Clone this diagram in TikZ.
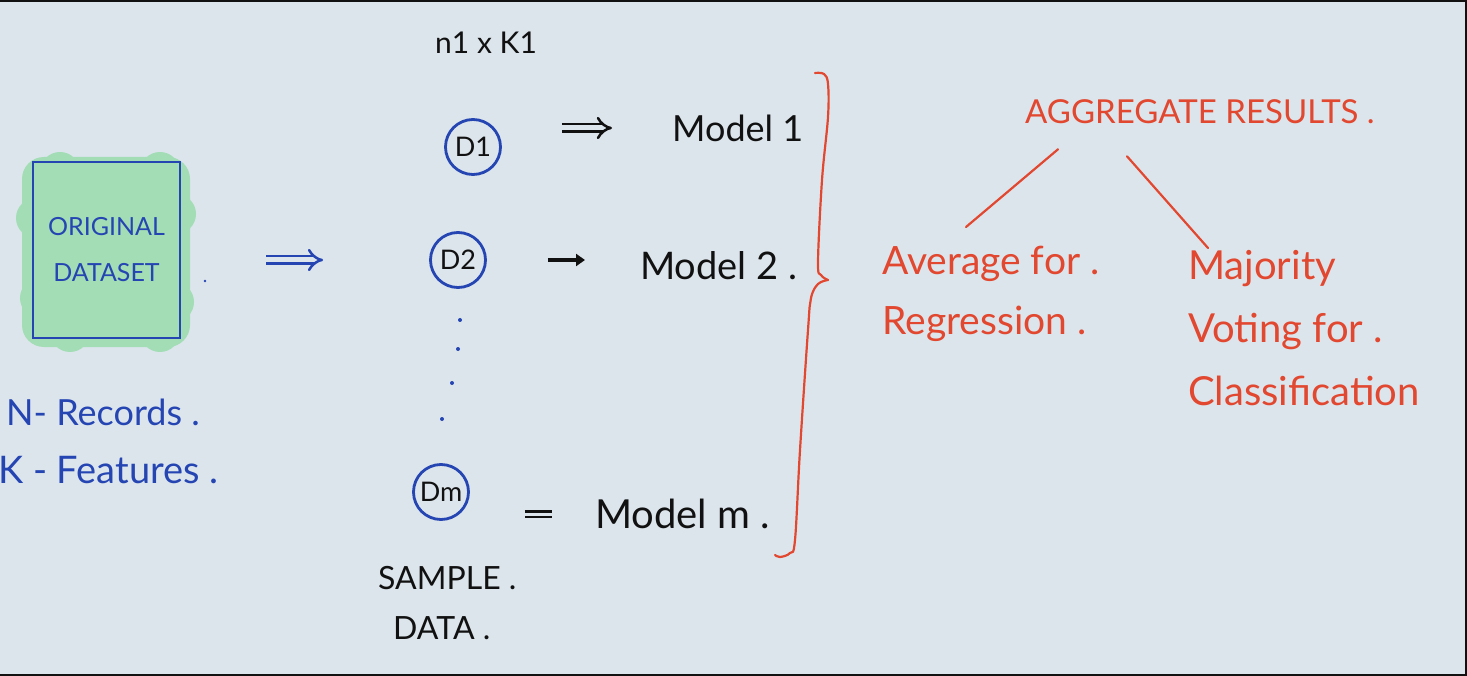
\documentclass[tikz,border=0pt]{standalone}
\usepackage{fontspec}
\setmainfont{Lato}
\usetikzlibrary{arrows.meta,positioning}
\definecolor{paper}{HTML}{DCE5EC}
\definecolor{mint}{HTML}{A2DDB5}
\definecolor{ink}{HTML}{2545B3}
\definecolor{redink}{HTML}{E2472F}
\definecolor{pen}{HTML}{111111}
\newcommand{\fs}[1]{\fontsize{#1}{#1}\selectfont}

\begin{document}
\begin{tikzpicture}[x=1pt,y=-1pt,
  txt/.style={inner sep=0pt,anchor=west},
  disk/.style={circle,draw=ink,line width=2.8pt,minimum size=55pt,inner sep=0pt,text=pen,font=\fs{27}},
  dbl/.style={line width=2.5pt,double=paper,double distance=5pt},
  redline/.style={redink,line width=2.2pt,line cap=round}]
\useasboundingbox (0,0) rectangle (1467,676);
\fill[paper] (0,0) rectangle (1467,676);
\draw[line width=4pt,pen] (0,0)--(1467,0)--(1467,676)--(0,676);
\fill[mint,rounded corners=22pt] (22,157) rectangle (190,347);
\foreach \x/\y in {36/218,40/298,176/214,174/302,60/172,160/172,70/332,160/332}{\fill[mint] (\x,\y) circle (20);}
\node[draw=ink,line width=2pt,minimum width=147pt,minimum height=176pt,inner sep=0pt,align=center,text=ink,font=\fontsize{25}{46}\selectfont] (orig) at (106.5,250) {ORIGINAL\\DATASET};
\fill[ink] (205,281) circle (1.3);
\node[txt,text=ink,font=\fs{36}] (recs) at (6,412) {N- Records .};
\node[txt,text=ink,font=\fs{38}] (feats) at (-2,470) {K - Features .};
\node[txt,text=pen,font=\fs{30}] (dims) at (435,43) {n1 x K1};
\node[disk] (d1) at (473,147) {D1};
\node[disk] (d2) at (458,260) {D2};
\node[disk] (dm) at (441,492) {Dm};
\foreach \x/\y in {460/320,458/349,452/383,442/419}{\fill[ink] (\x,\y) circle (2);}
\node[txt,text=pen,font=\fs{36}] (m1) at (672,128) {Model 1};
\node[txt,text=pen,font=\fs{38}] (m2) at (640,266) {Model 2 .};
\node[txt,text=pen,font=\fs{40}] (mm) at (595,514) {Model m .};
\node[txt,text=pen,font=\fs{32}] (smp) at (378,578) {SAMPLE .};
\node[txt,text=pen,font=\fs{32}] (dat) at (393,628) {DATA .};
\draw[ink,dbl,-Implies,shorten <=85pt,shorten >=106pt] (orig.east |- d2.west) -- (d2.west);
\draw[pen,dbl,-Implies,shorten <=60pt,shorten >=60pt] (d1.east |- m1.west) -- (m1.west);
\draw[pen,line width=4pt,-{Triangle[length=9pt,width=12pt]},shorten <=61pt,shorten >=55pt] (d2.east) -- (d2.east -| m2.west);
\draw[pen,line width=2.5pt,double=paper,double distance=3pt,shorten <=55pt,shorten >=43pt] (dm.east |- mm.west) -- (mm.west);
\draw[redline] plot[smooth,tension=0.6] coordinates {(815,73) (824,74) (828,84) (828,117) (822,180) (818,262) (821,275) (828,280)};
\draw[redline] plot[smooth,tension=0.6] coordinates {(828,280) (818,284) (811,298) (808,330) (800,450) (795,540) (790,553) (780,557) (775,555)};
\node[txt,text=redink,font=\fs{33}] (agg) at (1025,112) {AGGREGATE RESULTS .};
\node[inner sep=0pt,anchor=north west,align=left,text=redink,font=\fontsize{39}{60}\selectfont] (avg) at (882,246) {Average for .\\Regression .};
\node[inner sep=0pt,anchor=north west,align=left,text=redink,font=\fontsize{40}{63}\selectfont] (maj) at (1188,250) {Majority\\Voting for .\\Classification};
\draw[redline] ([xshift=33pt,yshift=-25pt]agg.south west) -- ([xshift=84pt,yshift=19pt]avg.north west);
\draw[redline] ([xshift=102pt,yshift=-32pt]agg.south west) -- ([xshift=20pt,yshift=2pt]maj.north west);
\end{tikzpicture}
\end{document}
